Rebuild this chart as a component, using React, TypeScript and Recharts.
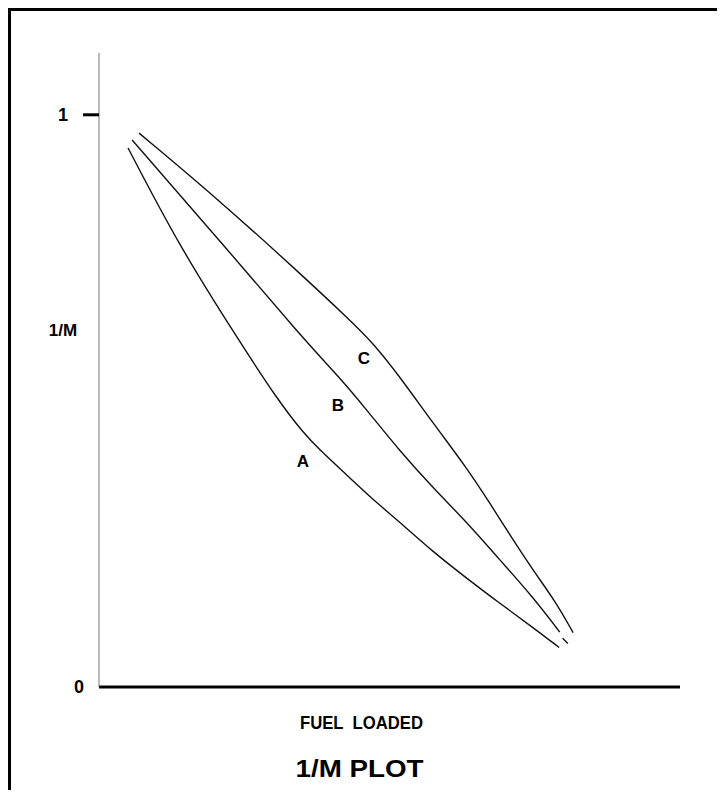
import React from "react";
import { LineChart, Line, XAxis, YAxis, ReferenceDot } from "recharts";

// Fuel loaded (percent of axis length) and 1/M values
const xA = [5.0, 13.9, 23.8, 30.8, 35.1, 38.0, 42.7, 47.2, 51.8, 57.5, 63.3, 69.0, 74.7, 79.2];
const yA = [0.942, 0.769, 0.61, 0.501, 0.445, 0.414, 0.37, 0.327, 0.288, 0.236, 0.19, 0.146, 0.104, 0.069];

const xB = [5.7, 20.3, 35.1, 41.5, 46.1, 51.8, 57.5, 63.3, 69.0, 74.7, 79.3];
const yB = [0.956, 0.786, 0.609, 0.54, 0.484, 0.412, 0.348, 0.288, 0.222, 0.157, 0.096];
const xBTail = [79.8, 80.7];
const yBTail = [0.085, 0.076];

const xC = [6.9, 20.3, 34.6, 43.2, 47.2, 51.8, 57.5, 63.3, 67.3, 70.7, 74.7, 78.8, 81.6];
const yC = [0.968, 0.854, 0.723, 0.641, 0.601, 0.542, 0.461, 0.383, 0.321, 0.266, 0.204, 0.146, 0.095];

const curveNames = ["A", "B", "C"];
const labelX = [35.1, 41.1, 45.6];
const labelY = [0.395, 0.493, 0.575];

const yTicks = [0, 1];
const yTickLabels = ["0", "1"];
const xTitle = "FUEL LOADED";
const yTitle = "1/M";
const chartTitle = "1/M PLOT";

const toPts = (xs: number[], ys: number[]) => xs.map((x, i) => ({ x, y: ys[i] }));
const dataA = toPts(xA, yA);
const dataB = toPts(xB, yB);
const dataBTail = toPts(xBTail, yBTail);
const dataC = toPts(xC, yC);

const FONT = "'Liberation Sans', Arial, Helvetica, sans-serif";

const YTick = (props: any) => {
  const { x, y, payload } = props;
  const idx = yTicks.indexOf(payload.value);
  const label = yTickLabels[idx] ?? String(payload.value);
  if (payload.value === 1) {
    return (
      <g>
        <line x1={x - 16} x2={x} y1={y} y2={y} stroke="#000" strokeWidth={3} />
        <text x={x - 36} y={y} dy="0.36em" textAnchor="middle" fontFamily={FONT} fontWeight="bold" fontSize={18} fill="#000">
          {label}
        </text>
      </g>
    );
  }
  return (
    <text x={x - 20} y={y} dy="0.36em" textAnchor="middle" fontFamily={FONT} fontWeight="bold" fontSize={18} fill="#000">
      {label}
    </text>
  );
};

const XTitles = (props: any) => {
  const vb = props.viewBox || { x: 88, y: 676, width: 581, height: 1 };
  const cx1 = vb.x + 262.5;
  const cx2 = vb.x + 260.5;
  return (
    <g>
      <text x={cx1} y={vb.y + 42} textAnchor="middle" fontFamily={FONT} fontWeight="bold" fontSize={19}
        fill="#000" textLength={123} lengthAdjust="spacingAndGlyphs" style={{ whiteSpace: "pre" }}>
        {"FUEL  LOADED"}
      </text>
      <text x={cx2} y={vb.y + 90} textAnchor="middle" fontFamily={FONT} fontWeight="bold" fontSize={23}
        fill="#000" textLength={128} lengthAdjust="spacingAndGlyphs">
        {chartTitle}
      </text>
    </g>
  );
};

const YTitle = (props: any) => {
  const vb = props.viewBox || { x: 28, y: 42, width: 60, height: 634 };
  return (
    <text x={vb.x + 24} y={vb.y + 277} dy="0.36em" textAnchor="middle" fontFamily={FONT} fontWeight="bold" fontSize={17} fill="#000">
      {yTitle}
    </text>
  );
};

export default function App() {
  return (
    <div
      style={{
        borderTop: "3px solid #000",
        borderLeft: "3px solid #000",
        marginRight: -8,
        marginBottom: -8,
        height: 787,
        position: "relative",
        background: "#fff",
      }}
    >
      <LineChart width={706} height={775} margin={{ top: 42, right: 37, bottom: 98, left: 28 }}>
        <XAxis
          type="number"
          dataKey="x"
          domain={[0, 100]}
          tick={false}
          tickLine={false}
          height={1}
          axisLine={{ stroke: "#000", strokeWidth: 3 }}
          label={{ content: (p: any) => <XTitles {...p} />, value: xTitle }}
        />
        <YAxis
          type="number"
          dataKey="y"
          domain={[0, 1.108]}
          ticks={yTicks}
          tick={<YTick />}
          tickLine={false}
          tickSize={0}
          tickMargin={0}
          width={60}
          axisLine={{ stroke: "#777", strokeWidth: 1 }}
          label={{ content: (p: any) => <YTitle {...p} />, value: yTitle }}
        />
        <Line data={dataA} dataKey="y" type="basis" stroke="#111" strokeWidth={1.4} dot={false} isAnimationActive={false} />
        <Line data={dataB} dataKey="y" type="basis" stroke="#111" strokeWidth={1.4} dot={false} isAnimationActive={false} />
        <Line data={dataBTail} dataKey="y" type="linear" stroke="#111" strokeWidth={1.4} dot={false} isAnimationActive={false} />
        <Line data={dataC} dataKey="y" type="basis" stroke="#111" strokeWidth={1.4} dot={false} isAnimationActive={false} />
        {curveNames.map((n, i) => (
          <ReferenceDot
            key={n}
            x={labelX[i]}
            y={labelY[i]}
            r={0}
            fill="none"
            stroke="none"
            label={{ value: n, position: "center", fontFamily: FONT, fontWeight: "bold", fontSize: 17, fill: "#000" }}
          />
        ))}
      </LineChart>
    </div>
  );
}
